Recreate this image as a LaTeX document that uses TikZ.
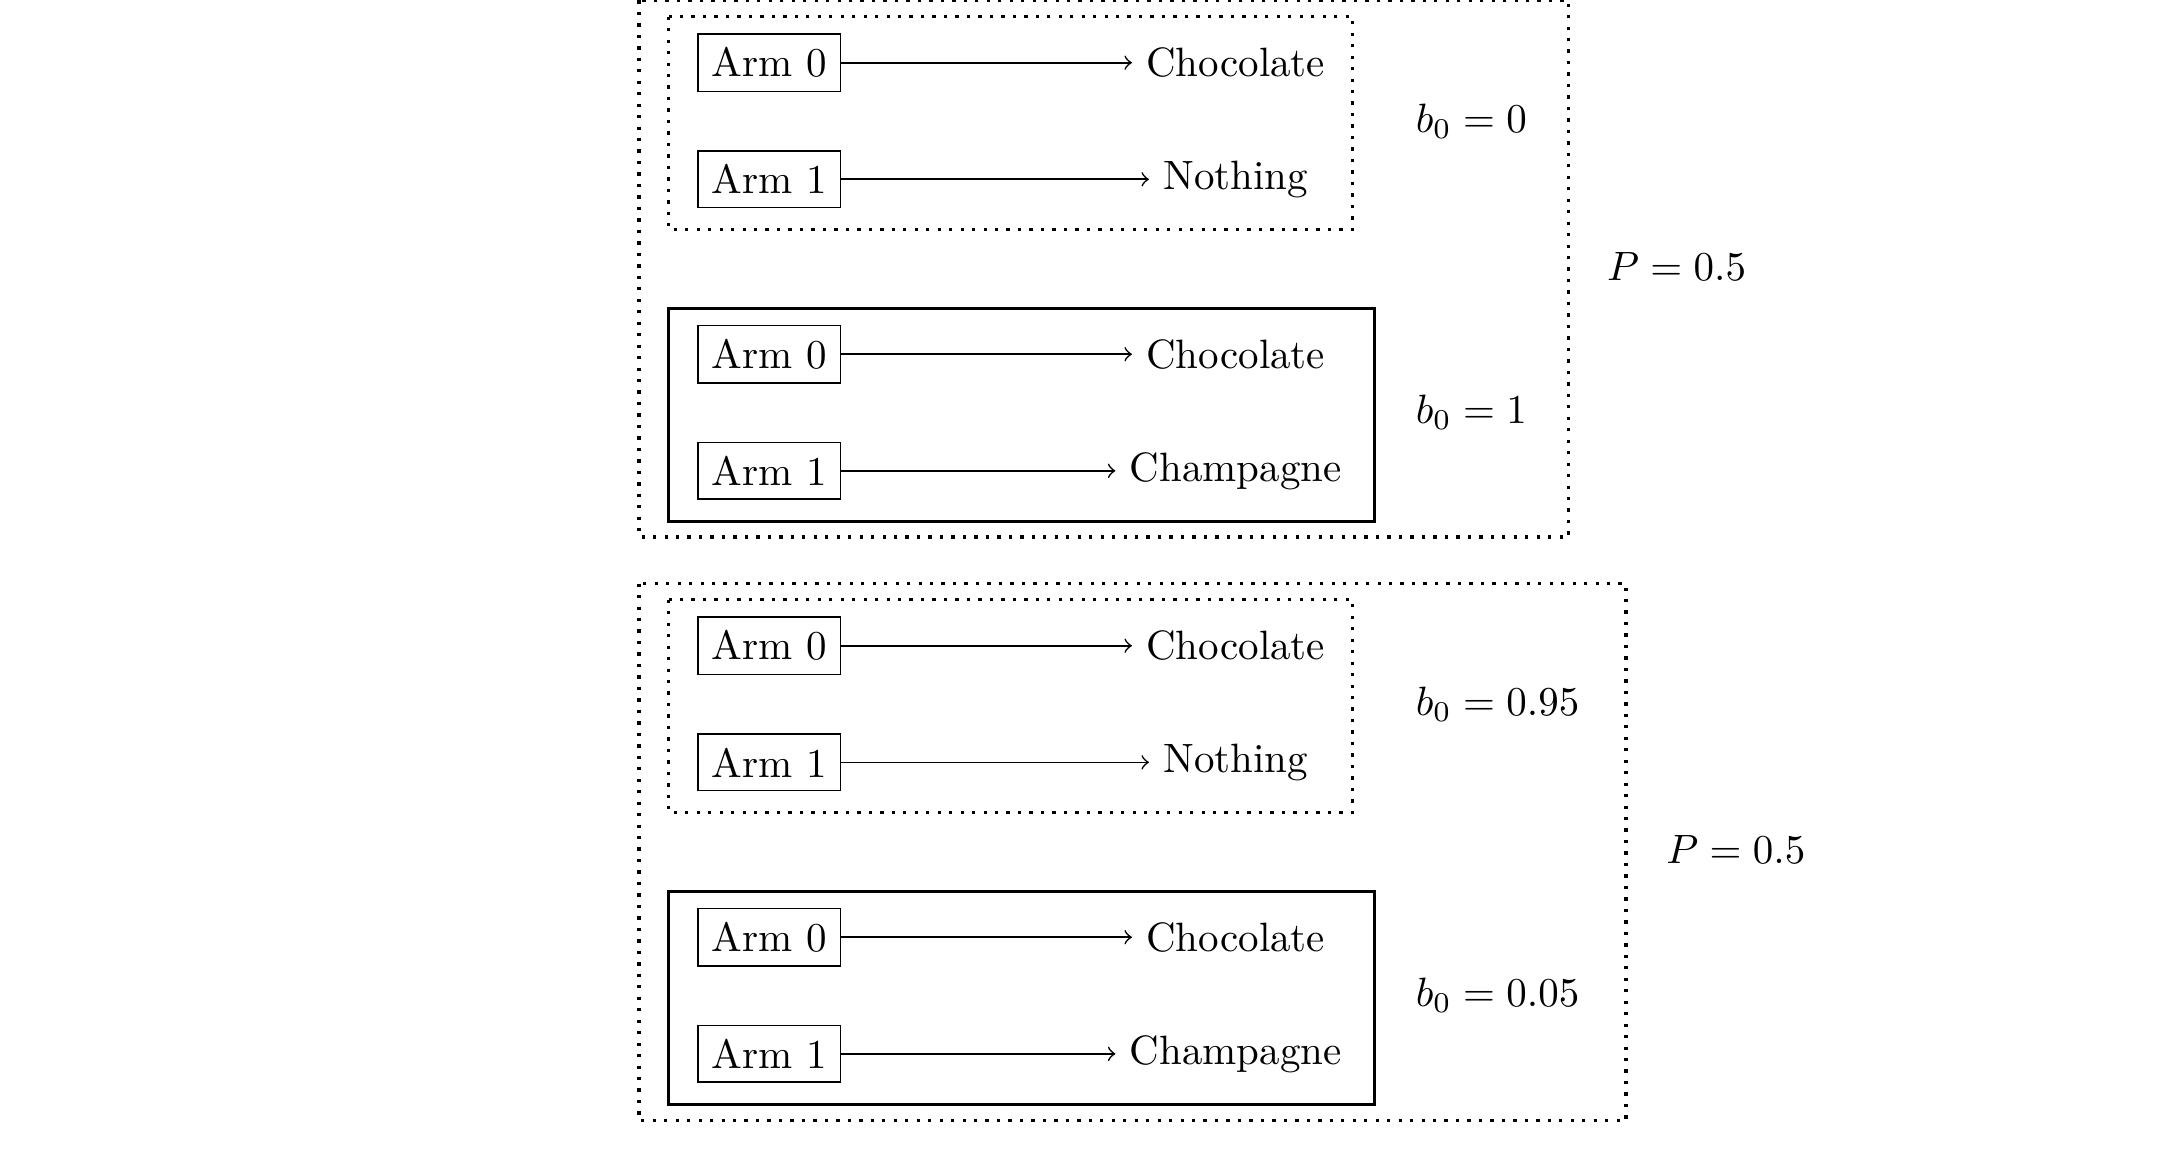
\documentclass[tikz,border=0pt]{standalone}
\usepackage{amsmath}
\usepackage{tikz}

\begin{document}
\begin{tikzpicture}[arm/.style={draw}, loose/.style={thick, dotted}, tight/.style={thick}]
    \useasboundingbox (-6.598,0.538) rectangle (12.081,-9.377);

    \coordinate (u) at (-1.118,0.535);
    \coordinate (U) at (6.855,-4.068);
    \coordinate (v) at (-1.118,-4.467);
    \coordinate (V) at (7.347,-9.073);

    \node [arm] (A0) at (0,0) {Arm 0};
    \node [arm] (A1) at (0,-1) {Arm 1};
    \node [arm] (B0) at (0,-2.5) {Arm 0};
    \node [arm] (B1) at (0,-3.5) {Arm 1};
    \node [arm] (C0) at (0,-5) {Arm 0};
    \node [arm] (C1) at (0,-6) {Arm 1};
    \node [arm] (D0) at (0,-7.5) {Arm 0};
    \node [arm] (D1) at (0,-8.5) {Arm 1};

    \node (a0) at (4,0) {Chocolate};
    \node (a1) at (4,-1) {Nothing};
    \node (b0) at (4,-2.5) {Chocolate};
    \node (b1) at (4,-3.5) {Champagne};
    \node (c0) at (4,-5) {Chocolate};
    \node (c1) at (4,-6) {Nothing};
    \node (d0) at (4,-7.5) {Chocolate};
    \node (d1) at (4,-8.5) {Champagne};

    \node [anchor=west] (ba) at (5.42,-0.5) {$b_0 = 0$};
    \node [anchor=west] (bb) at (5.42,-3) {$b_0 = 1$};
    \node [anchor=west] (bc) at (5.42,-5.5) {$b_0 = 0.95$};
    \node [anchor=west] (bd) at (5.42,-8) {$b_0 = 0.05$};
    \node [anchor=west] (P1) at (7.06,-1.75) {$P = 0.5$};
    \node [anchor=west] (P2) at (7.568,-6.75) {$P = 0.5$};

    \draw [->] (A0) -- (a0);
    \draw [->] (A1) -- (a1);
    \draw [->] (B0) -- (b0);
    \draw [->] (B1) -- (b1);
    \draw [->] (C0) -- (c0);
    \draw [->] (C1) -- (c1);
    \draw [->] (D0) -- (d0);
    \draw [->] (D1) -- (d1);

    \draw [loose] (-0.867,0.395) rectangle (5.001,-1.428);
    \draw [tight] (-0.867,-2.105) rectangle (5.188,-3.932);
    \draw [loose] (-0.867,-4.605) rectangle (5.001,-6.428);
    \draw [tight] (-0.867,-7.105) rectangle (5.188,-8.932);
    \draw [loose] (u) rectangle (U);
    \draw [loose] (v) rectangle (V);
\end{tikzpicture}
\end{document}
